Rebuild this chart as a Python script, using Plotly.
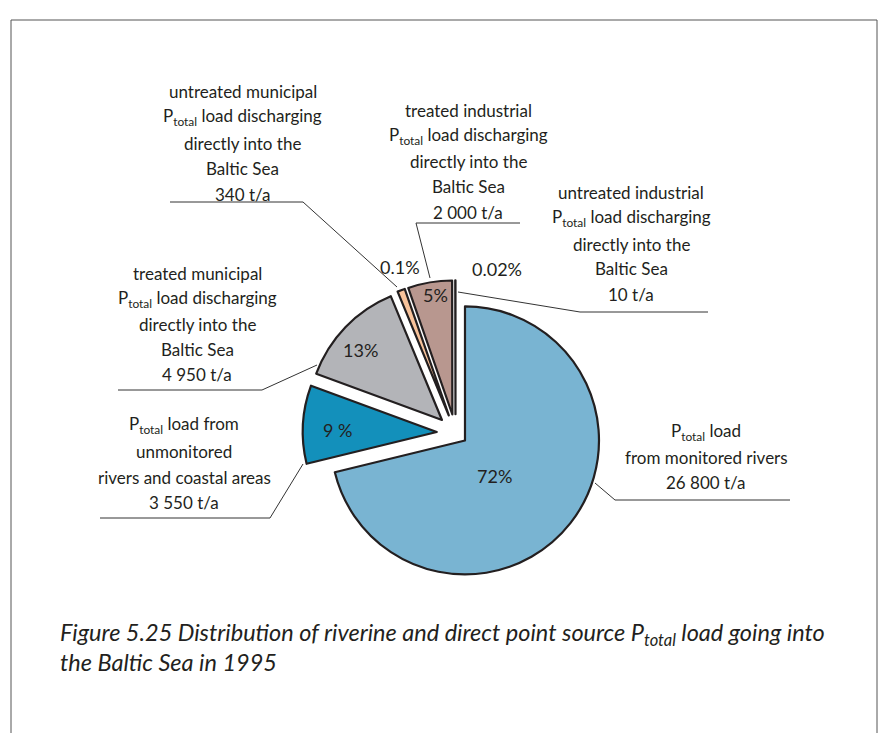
import plotly.graph_objects as go

W, H = 882, 733

# ---- data ----
categories = [
    "Ptotal load from monitored rivers",
    "Ptotal load from unmonitored rivers and coastal areas",
    "treated municipal Ptotal load discharging directly into the Baltic Sea",
    "untreated municipal Ptotal load discharging directly into the Baltic Sea",
    "treated industrial Ptotal load discharging directly into the Baltic Sea",
    "untreated industrial Ptotal load discharging directly into the Baltic Sea",
]
loads_t_per_a = [26800, 3550, 4950, 340, 2000, 10]
pct_labels = ["72%", "9 %", "13%", "0.1%", "5%", "0.02%"]
amount_labels = ["26 800 t/a", "3 550 t/a", "4 950 t/a", "340 t/a", "2 000 t/a", "10 t/a"]

slice_colors = ["#79B4D2", "#1390BB", "#B3B4B8", "#F8C39B", "#B8978F", "#FFFFFF"]
pulls = [0.09, 0.14, 0.14, 0.14, 0.14, 0.14]

def px(x):
    return x / W

def py(y):
    return 1 - y / H

# pie geometry (pixels)
cx, cy, r = 455.5, 433.0, 134.0
half = r * (1 + max(pulls))

fig = go.Figure()
fig.add_trace(go.Pie(
    labels=categories,
    values=loads_t_per_a,
    sort=False,
    direction="clockwise",
    rotation=0,
    pull=pulls,
    marker=dict(colors=slice_colors, line=dict(color="#231F20", width=2.2)),
    textinfo="none",
    textposition="none",
    hoverinfo="label+value",
    showlegend=False,
    domain=dict(x=[px(cx - half), px(cx + half)], y=[py(cy + half), py(cy - half)]),
))

FONT = "Lato"
TXT = "#231F20"
annotations = []

def add_lines(lines, xc, ys, size=17):
    for t, y in zip(lines, ys):
        annotations.append(dict(
            text=t, x=px(xc), y=py(y), xref="paper", yref="paper",
            xanchor="center", yanchor="middle", showarrow=False,
            font=dict(family=FONT, size=size, color=TXT)))

P = "P<sub>total</sub>"

# descriptive labels
add_lines(["untreated municipal", P + " load discharging", "directly into the", "Baltic Sea", amount_labels[3]],
          243, [91, 117, 143, 169, 194])
add_lines(["treated industrial", P + " load discharging", "directly into the", "Baltic Sea", amount_labels[4]],
          468, [110, 136, 162, 187, 212])
add_lines(["untreated industrial", P + " load discharging", "directly into the", "Baltic Sea", amount_labels[5]],
          631, [193, 218, 244, 268, 294])
add_lines(["treated municipal", P + " load discharging", "directly into the", "Baltic Sea", amount_labels[2]],
          197, [273, 299, 325, 350, 374])
add_lines([P + " load from", "unmonitored", "rivers and coastal areas", amount_labels[1]],
          184, [425, 451, 477, 502])
add_lines([P + " load", "from monitored rivers", amount_labels[0]],
          706, [432, 457, 482])

# percentage labels
pct_pos = [(494, 476), (337, 430), (360, 350), (400, 267), (435, 295), (497, 269)]
for t, (x, y) in zip(pct_labels, pct_pos):
    annotations.append(dict(
        text=t, x=px(x), y=py(y), xref="paper", yref="paper",
        xanchor="center", yanchor="middle", showarrow=False,
        font=dict(family=FONT, size=18, color=TXT)))

# caption
cap1 = "Figure 5.25 Distribution of riverine and direct point source P<sub>total</sub> load going into"
cap2 = "the Baltic Sea in 1995"
for t, y in [(cap1, 634), (cap2, 662)]:
    annotations.append(dict(
        text="<i>" + t + "</i>", x=px(58), y=py(y), xref="paper", yref="paper",
        xanchor="left", yanchor="middle", showarrow=False,
        font=dict(family=FONT, size=23.5, color=TXT)))

# leader lines
leaders = [
    [(170, 202), (303, 202), (397, 287)],
    [(520, 223), (416, 223), (430, 278)],
    [(708, 312), (580, 312), (458, 292)],
    [(118, 390), (262, 390), (317, 365)],
    [(100, 518), (270, 518), (303, 464)],
    [(790, 500), (615, 500), (595, 483)],
]
shapes = []
for pts in leaders:
    for (x0, y0), (x1, y1) in zip(pts[:-1], pts[1:]):
        shapes.append(dict(type="line", xref="paper", yref="paper",
                           x0=px(x0), y0=py(y0), x1=px(x1), y1=py(y1),
                           line=dict(color="#333333", width=1)))

# frame
for (x0, y0, x1, y1) in [(11, 20, 877, 20), (11, 20, 11, 733), (877, 20, 877, 733)]:
    shapes.append(dict(type="line", xref="paper", yref="paper",
                       x0=px(x0), y0=py(y0), x1=px(x1), y1=py(y1),
                       line=dict(color="#555555", width=1)))

fig.update_layout(
    width=W, height=H,
    margin=dict(l=0, r=0, t=0, b=0),
    paper_bgcolor="white", plot_bgcolor="white",
    annotations=annotations, shapes=shapes,
    showlegend=False,
)

fig.write_html("out.html", config={"displayModeBar": False},
               post_script="document.body.style.margin='0px';")
